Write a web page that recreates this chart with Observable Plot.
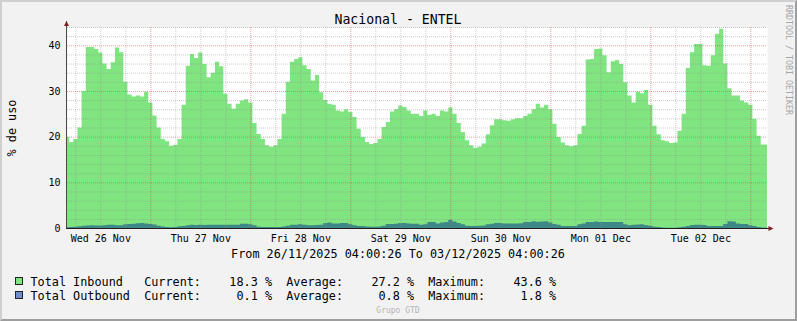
<!DOCTYPE html>
<html>
<head>
<meta charset="utf-8">
<script src="https://cdn.jsdelivr.net/npm/d3@7"></script>
<script src="https://cdn.jsdelivr.net/npm/@observablehq/plot@0.6"></script>
<style>
html,body{margin:0;padding:0;background:#f2f2f2;}
#wrap{position:relative;width:797px;height:321px;background:#f2f2f2;overflow:hidden;}
#plot,#over{position:absolute;left:0;top:0;}
#border{position:absolute;left:0;top:0;width:797px;height:321px;box-sizing:border-box;border-top:2px solid #cfcfcf;border-left:2px solid #cfcfcf;border-right:2px solid #9e9e9e;border-bottom:2px solid #9e9e9e;pointer-events:none;}
#over text{font-family:"DejaVu Sans Mono",monospace;white-space:pre;}
</style>
</head>
<body>
<div id="wrap"><div id="plot"></div><svg id="over" width="797" height="321"></svg><div id="border"></div></div>
<script>
// ---- data (hourly samples from 26/11/2025 04:00:26) ----
const inbound = [
19.9,18.8,19.5,22.0,30.0,39.6,39.6,39.2,38.4,36.0,34.8,36.3,39.5,38.5,32.0,29.2,28.8,29.0,28.8,29.8,27.5,24.6,22.0,19.5,19.0,18.0,18.2,19.5,
27.0,35.5,38.1,37.2,38.4,35.9,33.0,34.0,36.4,35.4,29.4,27.2,26.1,27.2,27.9,28.2,27.5,23.0,20.6,19.5,18.1,17.8,18.1,19.5,25.0,32.0,36.4,37.0,
37.4,35.6,34.8,32.3,33.5,29.7,28.0,27.2,27.0,25.7,25.5,26.0,25.4,24.3,21.7,19.9,18.8,18.4,18.6,19.5,22.1,23.2,25.5,26.0,26.8,26.5,25.7,25.0,
25.0,24.5,25.7,24.8,25.0,24.5,25.7,25.5,26.4,25.0,23.0,21.0,19.2,18.1,17.5,17.8,18.5,20.5,22.5,23.8,23.8,23.6,23.5,23.8,24.0,24.0,24.5,25.0,
26.0,27.2,26.4,27.0,26.0,22.8,19.9,18.7,18.1,17.9,18.1,20.6,22.4,36.9,37.0,39.2,39.3,37.8,34.1,36.5,36.8,35.9,31.9,29.0,27.5,29.8,29.5,30.2,27.0,
22.4,20.5,19.2,19.0,18.6,18.7,21.3,25.0,35.0,38.5,40.3,40.3,35.6,35.5,37.8,42.5,43.6,36.0,30.6,29.0,29.0,27.9,27.5,27.0,23.9,20.2,18.3
];
const outbound = [
0.15,0.2,0.3,0.4,0.5,0.55,0.6,0.55,0.55,0.6,0.7,0.7,0.6,0.6,0.8,0.9,0.95,1.05,1.1,1.0,0.85,0.75,0.5,0.35,0.2,0.15,0.2,0.4,
0.45,0.6,0.7,0.65,0.7,0.65,0.7,0.7,0.7,0.7,0.7,0.7,0.7,0.7,0.95,0.95,0.8,0.6,0.3,0.2,0.2,0.2,0.2,0.2,0.35,0.5,0.7,0.7,
0.8,0.7,0.6,0.6,0.65,0.7,1.1,1.2,1.0,1.0,1.1,1.1,0.8,0.6,0.45,0.45,0.35,0.3,0.3,0.35,0.5,0.85,0.9,0.95,1.1,1.1,1.0,0.95,
0.95,0.7,0.8,1.3,1.3,1.0,1.2,1.3,1.8,1.4,1.1,0.8,0.5,0.45,0.45,0.5,0.55,0.8,0.95,1.1,1.1,1.0,1.0,1.0,1.0,1.05,1.3,1.3,
1.5,1.35,1.45,1.5,1.2,0.9,0.7,0.45,0.45,0.45,0.45,0.8,1.0,1.3,1.3,1.4,1.3,1.3,1.3,1.3,1.3,1.3,0.8,0.6,0.7,0.75,0.8,0.6,0.5,
0.25,0.2,0.1,0.05,0.05,0.05,0.15,0.3,0.45,0.65,0.7,0.7,0.65,0.45,0.45,0.45,0.45,0.9,1.5,1.4,1.0,0.9,0.85,0.6,0.45,0.2,0.1
];
const startTime = "2025-11-26T04:00:26Z";
const endTime = "2025-12-03T04:00:26Z";
const xTickDates = ["2025-11-26T12:00:00Z","2025-11-27T12:00:00Z","2025-11-28T12:00:00Z","2025-11-29T12:00:00Z","2025-11-30T12:00:00Z","2025-12-01T12:00:00Z","2025-12-02T12:00:00Z"];
const xTickLabels = ["Wed 26 Nov","Thu 27 Nov","Fri 28 Nov","Sat 29 Nov","Sun 30 Nov","Mon 01 Dec","Tue 02 Dec"];
const yTicks = [0,10,20,30,40];
const seriesNames = ["Total Inbound","Total Outbound"];
const currentVals = [18.3, 0.1];
const averageVals = [27.2, 0.8];
const maximumVals = [43.6, 1.8];
const titleText = "Nacional - ENTEL";
const yLabelText = "% de uso";
const rangeText = "From 26/11/2025 04:00:26 To 03/12/2025 04:00:26";
const watermark = "RRDTOOL / TOBI OETIKER";
const footer = "Grupo GTD";

// ---- build tables ----
const t0 = new Date(startTime), t1 = new Date(endTime);
function table(vals){
  const d = vals.map((v,i)=>({t:new Date(+t0 + i*3600e3), v}));
  d.push({t:t1, v:vals[vals.length-1]});
  return d;
}
const inData = table(inbound), outData = table(outbound);
const majorX = d3.utcDay.range(t0, t1).filter(d => d > t0);
const minorX = d3.utcHour.every(6).range(t0, t1).filter(d => d.getUTCHours() !== 0);
const majorY = yTicks;
const minorY = d3.range(2, 45, 2).filter(v => v % 10 !== 0);
const labelMap = new Map(xTickDates.map((d,i)=>[+new Date(d), xTickLabels[i]]));

const chart = Plot.plot({
  width: 797, height: 321,
  marginLeft: 67, marginRight: 30, marginTop: 27, marginBottom: 93,
  style: {background:"transparent", fontFamily:"DejaVu Sans Mono", fontSize:"10px", color:"#000", overflow:"visible"},
  x: {type:"utc", domain:[t0, t1], label:null},
  y: {domain:[0, 44], label:null},
  marks: [
    Plot.frame({fill:"white", stroke:null}),
    Plot.areaY(inData, {x:"t", y:"v", fill:"#80e480", curve:"step"}),
    Plot.areaY(outData, {x:"t", y:"v", fill:"#3f8888", curve:"step"}),
    Plot.ruleY(minorY, {stroke:"#8f8f8f", strokeOpacity:0.45, strokeDasharray:"1,1"}),
    Plot.ruleX(minorX, {stroke:"#8f8f8f", strokeOpacity:0.45, strokeDasharray:"1,1"}),
    Plot.ruleY(majorY.filter(v=>v>0), {stroke:"#de4f4f", strokeOpacity:0.55, strokeDasharray:"1,1"}),
    Plot.ruleX(majorX, {stroke:"#de4f4f", strokeOpacity:0.55, strokeDasharray:"1,1"}),
    Plot.axisX(xTickDates.map(d=>new Date(d)), {tickSize:0, tickPadding:6, label:null, tickFormat:d=>labelMap.get(+d), fontSize:10}),
    Plot.axisY(yTicks, {tickSize:0, tickPadding:7, label:null, fontSize:10})
  ]
});
document.getElementById("plot").appendChild(chart);

// ---- decorations (axis lines, arrows, texts) ----
const sx = chart.scale("x"), sy = chart.scale("y");
const X0 = sx.apply(t0), X1 = sx.apply(t1), Y0 = sy.apply(0), Ytop = sy.apply(44);
const ns = "http://www.w3.org/2000/svg";
const over = document.getElementById("over");
function el(tag, attrs, text){
  const e = document.createElementNS(ns, tag);
  for (const k in attrs) e.setAttribute(k, attrs[k]);
  if (text != null) e.textContent = text;
  over.appendChild(e);
  return e;
}
// axes
el("line", {x1:X0-0.5, x2:X0-0.5, y1:Y0+0.5, y2:Ytop-6, stroke:"#4a4a4a", "stroke-width":1});
el("line", {x1:X0-1, x2:X1+3, y1:Y0+0.5, y2:Y0+0.5, stroke:"#1f1f1f", "stroke-width":1});
el("polygon", {points:`${X0-3},${Ytop-1} ${X0+2},${Ytop-1} ${X0-0.5},${Ytop-6}`, fill:"#801f1f"});
el("polygon", {points:`${X1+1.5},${Y0-2} ${X1+1.5},${Y0+3} ${X1+6.5},${Y0+0.5}`, fill:"#801f1f"});
// title
el("text", {x:398, y:24, "text-anchor":"middle", "font-size":"13.2px", fill:"#000"}, titleText);
// y label
el("text", {transform:"translate(15.5,128) rotate(-90)", "text-anchor":"middle", "font-size":"11.8px", fill:"#000"}, yLabelText);
// watermark
el("text", {transform:"translate(785.5,5) rotate(90)", "text-anchor":"start", "font-size":"8.3px", fill:"#a6a6a6"}, watermark);
// range
el("text", {x:398, y:258, "text-anchor":"middle", "font-size":"11.8px", fill:"#000"}, rangeText);
// legend
const boxColors = ["#80e480","#6f8ecb"];
seriesNames.forEach((name, i) => {
  const base = 286 + i*14;
  el("rect", {x:15.5, y:base-8.5, width:7, height:7, fill:boxColors[i], stroke:"#222", "stroke-width":1});
  const s = name.padEnd(16) + "Current:" + currentVals[i].toFixed(1).padStart(8) + " %  Average:" +
            averageVals[i].toFixed(1).padStart(8) + " %  Maximum:" + maximumVals[i].toFixed(1).padStart(8) + " %";
  el("text", {x:30.5, y:base, "font-size":"11.8px", fill:"#000"}, s);
});
// footer
el("text", {x:398, y:313, "text-anchor":"middle", "font-size":"8px", fill:"#b4b4b4"}, footer);
</script>
</body>
</html>
